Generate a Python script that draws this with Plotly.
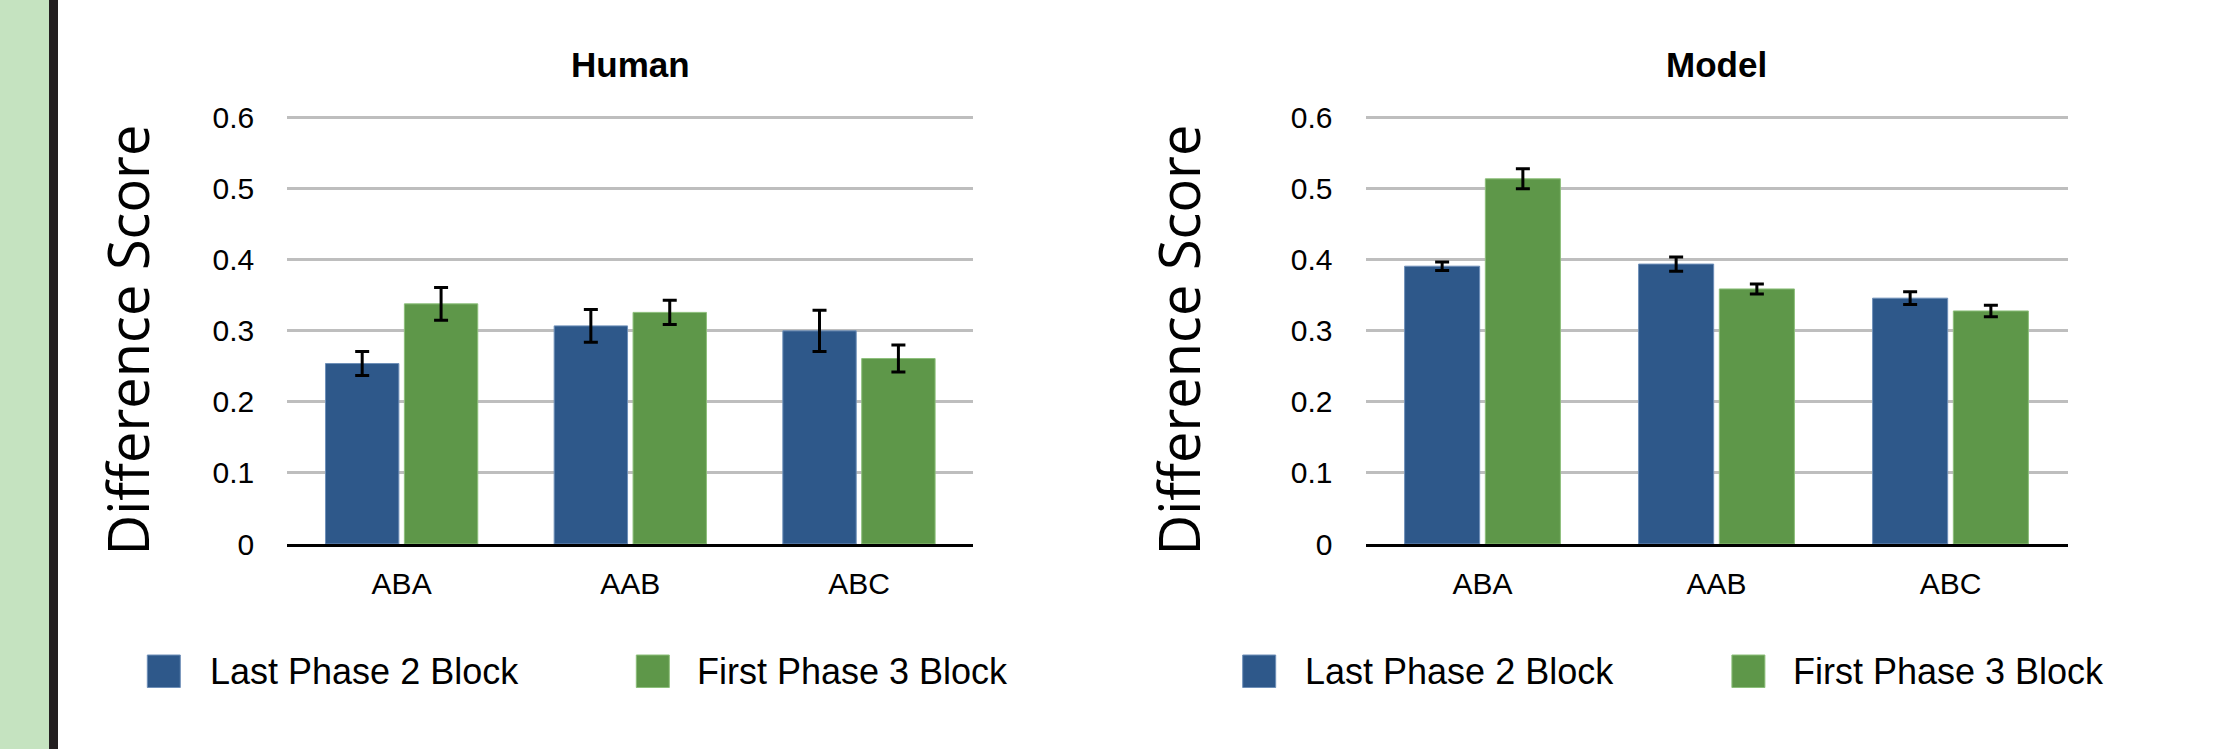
import plotly.graph_objects as go

# ---------------- data ----------------
categories = ["ABA", "AAB", "ABC"]
series_names = ["Last Phase 2 Block", "First Phase 3 Block"]

human_last = [0.254, 0.307, 0.300]
human_last_err = [0.017, 0.023, 0.029]
human_first = [0.338, 0.326, 0.261]
human_first_err = [0.023, 0.017, 0.019]

model_last = [0.391, 0.394, 0.346]
model_last_err = [0.006, 0.010, 0.009]
model_first = [0.514, 0.359, 0.328]
model_first_err = [0.014, 0.007, 0.008]

panel_titles = ["Human", "Model"]
y_title = "Difference Score"
y_ticks = [0, 0.1, 0.2, 0.3, 0.4, 0.5, 0.6]
y_ticktext = ["0", "0.1", "0.2", "0.3", "0.4", "0.5", "0.6"]

# ---------------- style ----------------
W, H = 2236, 749
BLUE = "#2E588A"
BLUE_EDGE = "#6E8FB8"
GREEN = "#5E9749"
GREEN_EDGE = "#8CBF7A"
GRID = "#BEBEBE"
FONT = "Liberation Sans, Arial, sans-serif"

def px_x(v):
    return v / W

def px_y(v):
    return (H - v) / H

fig = go.Figure()

panels = [
    (human_last, human_last_err, human_first, human_first_err, "x", "y"),
    (model_last, model_last_err, model_first, model_first_err, "x2", "y2"),
]
for last, last_err, first, first_err, xa, ya in panels:
    fig.add_trace(go.Bar(
        x=categories, y=last, name=series_names[0], xaxis=xa, yaxis=ya,
        marker=dict(color=BLUE, line=dict(color=BLUE_EDGE, width=1)),
        error_y=dict(type="data", array=last_err, color="black", thickness=3, width=7),
        showlegend=False,
    ))
    fig.add_trace(go.Bar(
        x=categories, y=first, name=series_names[1], xaxis=xa, yaxis=ya,
        marker=dict(color=GREEN, line=dict(color=GREEN_EDGE, width=1)),
        error_y=dict(type="data", array=first_err, color="black", thickness=3, width=7),
        showlegend=False,
    ))

y_dom = [px_y(544), px_y(103.5)]
x_doms = [[px_x(287.3), px_x(973.3)], [px_x(1365.5), px_x(2067.5)]]

xaxis_common = dict(
    showgrid=False, showline=True, linecolor="black", linewidth=3,
    ticks="", tickfont=dict(family=FONT, size=30, color="black"),
    ticklabelstandoff=11, fixedrange=True, automargin=False,
)
yaxis_common = dict(
    range=[0, 0.62], tickvals=y_ticks, ticktext=y_ticktext,
    showgrid=True, gridcolor=GRID, gridwidth=2.5, zeroline=False,
    showline=False, ticks="", tickfont=dict(family=FONT, size=30, color="black"),
    ticklabelstandoff=32, automargin=False, fixedrange=True,
)

fig.update_layout(
    width=W, height=H, autosize=False,
    margin=dict(l=0, r=0, t=0, b=0, pad=0, autoexpand=False),
    paper_bgcolor="white", plot_bgcolor="white",
    barmode="group", bargap=0.31, bargroupgap=0.07,
    xaxis=dict(domain=x_doms[0], anchor="y", **xaxis_common),
    yaxis=dict(domain=y_dom, anchor="x", **yaxis_common),
    xaxis2=dict(domain=x_doms[1], anchor="y2", **xaxis_common),
    yaxis2=dict(domain=y_dom, anchor="x2", **yaxis_common),
    showlegend=False,
)

# left decorative strip
fig.add_shape(type="rect", xref="paper", yref="paper", x0=0, x1=px_x(49), y0=0, y1=1,
              fillcolor="#C5E3C0", line=dict(width=0), layer="below")
fig.add_shape(type="rect", xref="paper", yref="paper", x0=px_x(49), x1=px_x(58), y0=0, y1=1,
              fillcolor="#231F20", line=dict(width=0), layer="below")

# panel titles and y-axis titles
title_x = [630.3, 1716.5]
ytitle_x = [126, 1177]
for i in range(2):
    fig.add_annotation(text="<b>" + panel_titles[i] + "</b>", xref="paper", yref="paper",
                       x=px_x(title_x[i]), y=px_y(64), xanchor="center", yanchor="middle",
                       showarrow=False, font=dict(family=FONT, size=35, color="black"))
    fig.add_annotation(text=y_title, xref="paper", yref="paper", textangle=-90,
                       x=px_x(ytitle_x[i]), y=px_y(340.5), xanchor="center", yanchor="middle",
                       showarrow=False, font=dict(family="Open Sans, sans-serif", size=56, color="black"))

# custom legends (large swatches)
legend_items = [
    (147.3, 208.3, BLUE, BLUE_EDGE, series_names[0]),
    (636.3, 694.5, GREEN, GREEN_EDGE, series_names[1]),
    (1242.7, 1303.0, BLUE, BLUE_EDGE, series_names[0]),
    (1731.9, 1790.6, GREEN, GREEN_EDGE, series_names[1]),
]
for sq_x, txt_x, col, edge, label in legend_items:
    fig.add_shape(type="rect", xref="paper", yref="paper",
                  x0=px_x(sq_x), x1=px_x(sq_x + 33), y0=px_y(687.5), y1=px_y(655),
                  fillcolor=col, line=dict(color=edge, width=1))
    fig.add_annotation(text=label, xref="paper", yref="paper", x=px_x(txt_x), y=px_y(671),
                       xanchor="left", yanchor="middle", showarrow=False,
                       font=dict(family=FONT, size=36, color="black"))

fig.write_html(
    "out.html",
    config={"responsive": False, "displayModeBar": False},
    default_width="2236px", default_height="749px",
    post_script="document.body.style.margin='0px';document.body.style.padding='0px';"
                "document.body.style.overflow='hidden';",
)
